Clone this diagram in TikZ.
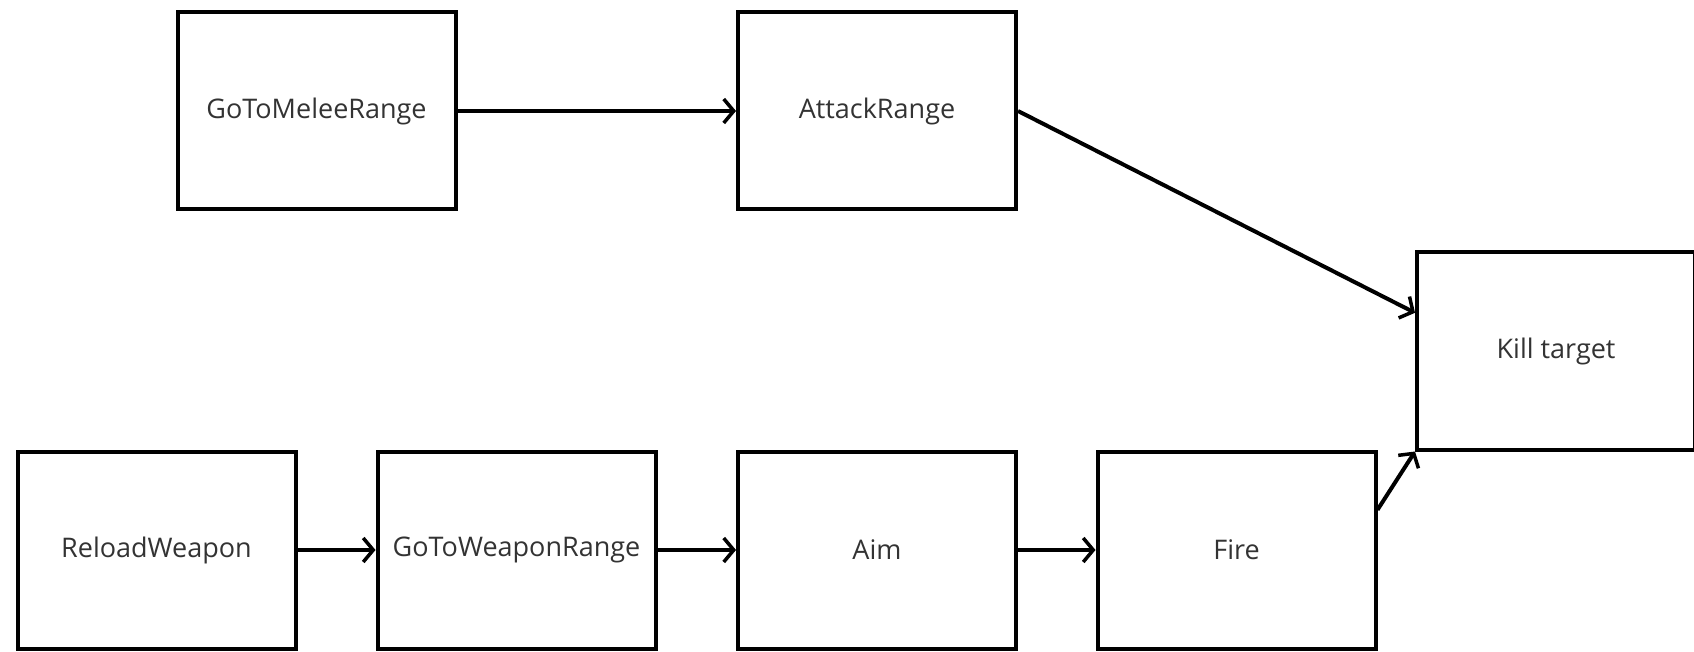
\documentclass[tikz,border=0pt]{standalone}
\usepackage{fontspec}
\setmainfont{Open Sans}
\usetikzlibrary{arrows.meta,calc}
\begin{document}
\begin{tikzpicture}[x=1pt,y=-1pt,
  box/.style={draw=black,line width=4pt,minimum width=278pt,minimum height=197pt,inner sep=0pt,
    font=\fontsize{27}{32}\selectfont,text=black!80},
  conn/.style={line width=4pt,-{Straight Barb[length=10pt,width=24pt,line width=3.5pt]}}]
\useasboundingbox (0,0) rectangle (1694,652);
\node[box] (melee) at (316.5,111) {GoToMeleeRange};
\node[box] (attack) at (877,111) {AttackRange};
\node[box] (kill) at (1556,351) {Kill target};
\node[box] (reload) at (156.5,550) {ReloadWeapon};
\node[box] (wrange) at (516.5,550) {GoToWeaponRange};
\node[box] (aim) at (877,550) {Aim};
\node[box] (fire) at (1236.5,550) {Fire};
\draw[conn] (melee.east) -- (attack.west);
\draw[conn] (attack.east) -- ($(kill.north west)!0.31!(kill.south west)$);
\draw[conn] (reload.east) -- (wrange.west);
\draw[conn] (wrange.east) -- (aim.west);
\draw[conn] (aim.east) -- (fire.west);
\draw[conn] ($(fire.north east)!0.3!(fire.south east)$) -- (kill.south west);
\end{tikzpicture}
\end{document}
